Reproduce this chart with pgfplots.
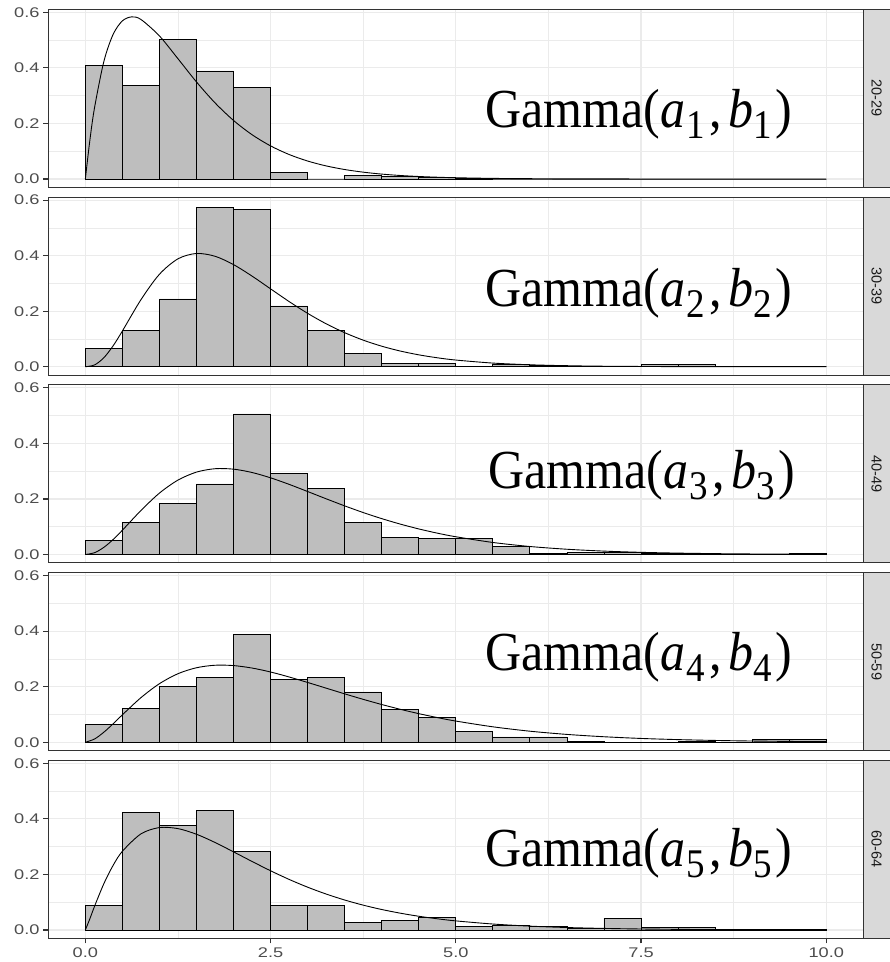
\documentclass[border=0pt]{standalone}
\usepackage{pgfplots}
\pgfplotsset{compat=1.18}
\usepackage{fontspec}
\setmainfont{Liberation Sans}
\newfontfamily\seriffont{Liberation Serif}
\definecolor{gridc}{HTML}{EBEBEB}
\definecolor{framec}{HTML}{333333}
\definecolor{tickc}{HTML}{4D4D4D}
\definecolor{stripc}{HTML}{D9D9D9}
\definecolor{stript}{HTML}{1A1A1A}
\definecolor{barc}{HTML}{BEBEBE}

\newcommand{\gam}[1]{{\seriffont\fontsize{50}{50}\selectfont Gamma(\textit{a}\kern1pt\raisebox{-10pt}{\fontsize{37}{37}\selectfont #1}\kern4pt,\kern7pt\textit{b}\kern0pt\raisebox{-10pt}{\fontsize{37}{37}\selectfont #1}\kern3pt)}}

\tikzset{gnode/.style={anchor=base west, inner sep=0pt, yscale=1.1}}

\pgfplotsset{
  panel/.style={
    scale only axis, width=815pt, height=178pt,
    xmin=-0.5, xmax=10.5, ymin=-0.03, ymax=0.611,
    xtick={0,2.5,5,7.5,10}, minor xtick={1.25,3.75,6.25,8.75},
    ytick={0,0.2,0.4,0.6}, minor ytick={0.1,0.3,0.5},
    grid=both,
    major grid style={gridc, line width=1.1pt},
    minor grid style={gridc, line width=0.55pt},
    axis line style={framec, line width=1.1pt},
    tick align=outside, tick pos=left,
    major tick length=5pt, minor tick length=0pt,
    tick style={framec, line width=1.1pt},
    /pgf/number format/assume math mode=true,
    /pgf/number format/.cd, fixed, fixed zerofill, precision=1, /pgfplots/.cd,
    yticklabel style={font=\fontsize{14}{14}\selectfont, text=tickc, inner sep=0pt, xshift=-3.5pt, xscale=1.3},
    xticklabel style={font=\fontsize{14}{14}\selectfont, text=tickc, inner sep=0pt, yshift=-4.5pt, xscale=1.3},
    clip=false,
  },
  inner/.style={panel, xticklabels={}, xmajorticks=false},
  bars/.style={ybar interval, fill=barc, draw=black, line width=0.8pt},
  dens/.style={black, line width=0.9pt, smooth},
}
\newcommand{\strip}[1]{%
  \draw[fill=stripc, draw=framec, line width=1.1pt] (rel axis cs:1,0) rectangle ([xshift=32pt]rel axis cs:1,1);
  \node[rotate=-90, text=stript, font=\fontsize{14.5}{14.5}\selectfont] at ([xshift=13.4pt]rel axis cs:1,0.5) {#1};
}

\begin{document}
\begin{tikzpicture}
\useasboundingbox (0,0) rectangle (890pt,962pt);

% ---------------- Panel 1: 20-29
\begin{axis}[inner, at={(48.3pt,774.67pt)}, anchor=south west]
\addplot[bars] coordinates {(0,0.408) (0.5,0.337) (1,0.504) (1.5,0.389) (2,0.329) (2.5,0.024) (3,0) (3.5,0.012) (4,0.008) (4.5,0.004) (5,0.003) (5.5,0) (6,0) (6.5,0) (7,0) (7.5,0) (8,0) (8.5,0) (9,0) (9.5,0) (10,0)};
\addplot[dens] coordinates {(0,0) (0.0625,0.1426) (0.125,0.2582) (0.25,0.4234) (0.375,0.5209) (0.5,0.5695) (0.625,0.5838) (0.75,0.5745) (1,0.5152) (1.25,0.4331) (1.5,0.3495) (1.75,0.2742) (2,0.2108) (2.25,0.1595) (2.5,0.1192) (2.75,0.0882) (3,0.0647) (3.25,0.0471) (3.5,0.0341) (3.75,0.0246) (4,0.0176) (4.25,0.0126) (4.5,0.0090) (4.75,0.0064) (5,0.0045) (5.5,0.0022) (6,0.0011) (6.5,0.0005) (7,0.0003) (7.5,0.0001) (8,0.0001) (8.5,0) (9,0) (9.5,0) (10,0)};
\node[gnode] at (axis cs:5.40,0.184) {\gam{1}};
\strip{20-29}
\end{axis}

% ---------------- Panel 2: 30-39
\begin{axis}[inner, at={(48.3pt,586.92pt)}, anchor=south west]
\addplot[bars] coordinates {(0,0.067) (0.5,0.132) (1,0.244) (1.5,0.574) (2,0.567) (2.5,0.219) (3,0.131) (3.5,0.049) (4,0.011) (4.5,0.011) (5,0) (5.5,0.008) (6,0.004) (6.5,0) (7,0) (7.5,0.007) (8,0.007) (8.5,0) (9,0) (9.5,0) (10,0)};
\addplot[dens] coordinates {(0,0) (0.125,0.0066) (0.25,0.0325) (0.375,0.0754) (0.5,0.1287) (0.75,0.2413) (1,0.3330) (1.25,0.3886) (1.5,0.4079) (1.75,0.3979) (2,0.3678) (2.25,0.3264) (2.5,0.2805) (2.75,0.2348) (3,0.1923) (3.25,0.1547) (3.5,0.1226) (3.75,0.0958) (4,0.0740) (4.25,0.0566) (4.5,0.0429) (4.75,0.0323) (5,0.0241) (5.5,0.0132) (6,0.0071) (6.5,0.0037) (7,0.0019) (7.5,0.0010) (8,0.0005) (8.5,0.0003) (9,0.0001) (9.5,0.0001) (10,0)};
\node[gnode] at (axis cs:5.40,0.216) {\gam{2}};
\strip{30-39}
\end{axis}

% ---------------- Panel 3: 40-49
\begin{axis}[inner, at={(48.3pt,399.17pt)}, anchor=south west]
\addplot[bars] coordinates {(0,0.049) (0.5,0.116) (1,0.184) (1.5,0.254) (2,0.506) (2.5,0.292) (3,0.238) (3.5,0.116) (4,0.062) (4.5,0.059) (5,0.058) (5.5,0.028) (6,0.004) (6.5,0.008) (7,0.006) (7.5,0.003) (8,0.003) (8.5,0) (9,0) (9.5,0.003) (10,0)};
\addplot[dens] coordinates {(0,0) (0.125,0.0065) (0.25,0.0257) (0.375,0.0540) (0.5,0.0875) (0.75,0.1583) (1,0.2211) (1.25,0.2679) (1.5,0.2967) (1.75,0.3089) (2,0.3073) (2.25,0.2953) (2.5,0.2761) (2.75,0.2526) (3,0.2268) (3.25,0.2006) (3.5,0.1751) (3.75,0.1511) (4,0.1292) (4.25,0.1095) (4.5,0.0921) (4.75,0.0769) (5,0.0639) (5.5,0.0433) (6,0.0288) (6.5,0.0189) (7,0.0122) (7.5,0.0078) (8,0.0050) (8.5,0.0031) (9,0.0019) (9.5,0.0012) (10,0.0007)};
\node[gnode] at (axis cs:5.44,0.238) {\gam{3}};
\strip{40-49}
\end{axis}

% ---------------- Panel 4: 50-59
\begin{axis}[inner, at={(48.3pt,211.42pt)}, anchor=south west]
\addplot[bars] coordinates {(0,0.063) (0.5,0.122) (1,0.202) (1.5,0.234) (2,0.389) (2.5,0.226) (3,0.234) (3.5,0.181) (4,0.119) (4.5,0.089) (5,0.040) (5.5,0.019) (6,0.019) (6.5,0.002) (7,0) (7.5,0) (8,0.004) (8.5,0) (9,0.010) (9.5,0.010) (10,0)};
\addplot[dens] coordinates {(0,0) (0.125,0.0118) (0.25,0.0362) (0.375,0.0665) (0.5,0.0988) (0.75,0.1605) (1,0.2109) (1.25,0.2468) (1.5,0.2683) (1.75,0.2773) (2,0.2761) (2.25,0.2672) (2.5,0.2530) (2.75,0.2351) (3,0.2153) (3.25,0.1948) (3.5,0.1743) (3.75,0.1545) (4,0.1359) (4.25,0.1187) (4.5,0.1030) (4.75,0.0889) (5,0.0763) (5.5,0.0556) (6,0.0398) (6.5,0.0282) (7,0.0198) (7.5,0.0137) (8,0.0095) (8.5,0.0065) (9,0.0044) (9.5,0.0030) (10,0.0020)};
\node[gnode] at (axis cs:5.40,0.260) {\gam{4}};
\strip{50-59}
\end{axis}

% ---------------- Panel 5: 60-64
\begin{axis}[panel, at={(48.3pt,23.67pt)}, anchor=south west]
\addplot[bars] coordinates {(0,0.090) (0.5,0.424) (1,0.378) (1.5,0.432) (2,0.282) (2.5,0.089) (3,0.089) (3.5,0.027) (4,0.035) (4.5,0.044) (5,0.012) (5.5,0.018) (6,0.014) (6.5,0.004) (7,0.043) (7.5,0.008) (8,0.008) (8.5,0.002) (9,0.002) (9.5,0.002) (10,0)};
\addplot[dens] coordinates {(0,0) (0.0625,0.0414) (0.125,0.0859) (0.25,0.1669) (0.375,0.2328) (0.5,0.2835) (0.75,0.3461) (1,0.3689) (1.25,0.3651) (1.5,0.3448) (1.75,0.3152) (2,0.2814) (2.25,0.2468) (2.5,0.2133) (2.75,0.1822) (3,0.1542) (3.25,0.1295) (3.5,0.1080) (3.75,0.0895) (4,0.0738) (4.25,0.0606) (4.5,0.0495) (4.75,0.0404) (5,0.0328) (5.5,0.0215) (6,0.0139) (6.5,0.0089) (7,0.0057) (7.5,0.0036) (8,0.0023) (8.5,0.0014) (9,0.0009) (9.5,0.0006) (9.75,0.0004)};
\node[gnode] at (axis cs:5.40,0.228) {\gam{5}};
\strip{60-64}
\end{axis}
\end{tikzpicture}
\end{document}
